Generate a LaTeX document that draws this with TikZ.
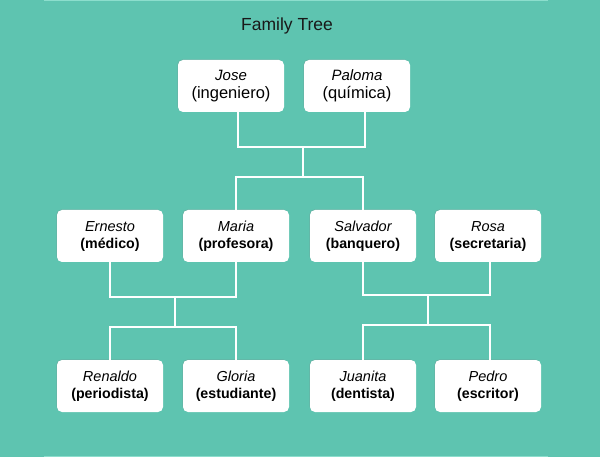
\documentclass[tikz,border=0pt]{standalone}
\usepackage{fontspec}
\setmainfont{Liberation Sans}
\usetikzlibrary{shadows}
\definecolor{teal1}{RGB}{94,196,176}
\definecolor{teal2}{RGB}{140,222,205}
\tikzset{
  person/.style={draw=none, fill=white, rounded corners=5pt, minimum width=106pt,
    minimum height=52pt, align=center, inner sep=0pt,
    drop shadow={shadow xshift=-0.6pt, shadow yshift=0.6pt, opacity=0.25}},
  link/.style={draw=white, line width=2pt}
}
\newcommand{\who}[2]{{\fontsize{14.5}{17}\selectfont\itshape #1}\\[5pt]{\fontsize{14.2}{17}\selectfont\bfseries #2}}
\begin{document}
\begin{tikzpicture}[x=1pt, y=-1pt]
\fill[teal1] (0,0) rectangle (600,457);
\useasboundingbox (0,0) rectangle (600,457);
\draw[teal2, line width=1.5pt] (44,0.75) -- (548,0.75);
\draw[teal2, line width=1.5pt] (44,456.25) -- (548,456.25);

\node[font=\fontsize{17.5}{20}\selectfont, text=black!90] (title) at (287,26) {Family Tree};

% grandparents
\node[person] (jose) at (231,86) {{\fontsize{15}{18}\selectfont\itshape Jose}\\[5pt]{\fontsize{16.5}{19}\selectfont (ingeniero)}};
\node[person] (paloma) at (357,86) {{\fontsize{15}{18}\selectfont\itshape Paloma}\\[5pt]{\fontsize{16.5}{19}\selectfont (química)}};

% parents
\node[person] (ernesto) at (110,236) {\who{Ernesto}{(médico)}};
\node[person] (maria) at (236,236) {\who{Maria}{(profesora)}};
\node[person] (salvador) at (363,236) {\who{Salvador}{(banquero)}};
\node[person] (rosa) at (488,236) {\who{Rosa}{(secretaria)}};

% children
\node[person] (renaldo) at (110,386) {\who{Renaldo}{(periodista)}};
\node[person] (gloria) at (236,386) {\who{Gloria}{(estudiante)}};
\node[person] (juanita) at (363,386) {\who{Juanita}{(dentista)}};
\node[person] (pedro) at (488,386) {\who{Pedro}{(escritor)}};

% junctions
\coordinate (jp) at (303,147);
\coordinate (jpkids) at (303,177);
\coordinate (em) at (175,297);
\coordinate (emkids) at (175,327);
\coordinate (sr) at (428,295);
\coordinate (srkids) at (428,325);

% connectors
\draw[link] ([xshift=7pt]jose.south) |- (jp) -| ([xshift=8pt]paloma.south);
\draw[link] (jp) -- (jpkids);
\draw[link] (maria.north) |- (jpkids) -| (salvador.north);

\draw[link] (ernesto.south) |- (em) -| (maria.south);
\draw[link] (em) -- (emkids);
\draw[link] (renaldo.north) |- (emkids) -| (gloria.north);

\draw[link] (salvador.south) |- (sr) -| ([xshift=2pt]rosa.south);
\draw[link] (sr) -- (srkids);
\draw[link] (juanita.north) |- (srkids) -| ([xshift=2pt]pedro.north);
\end{tikzpicture}
\end{document}
